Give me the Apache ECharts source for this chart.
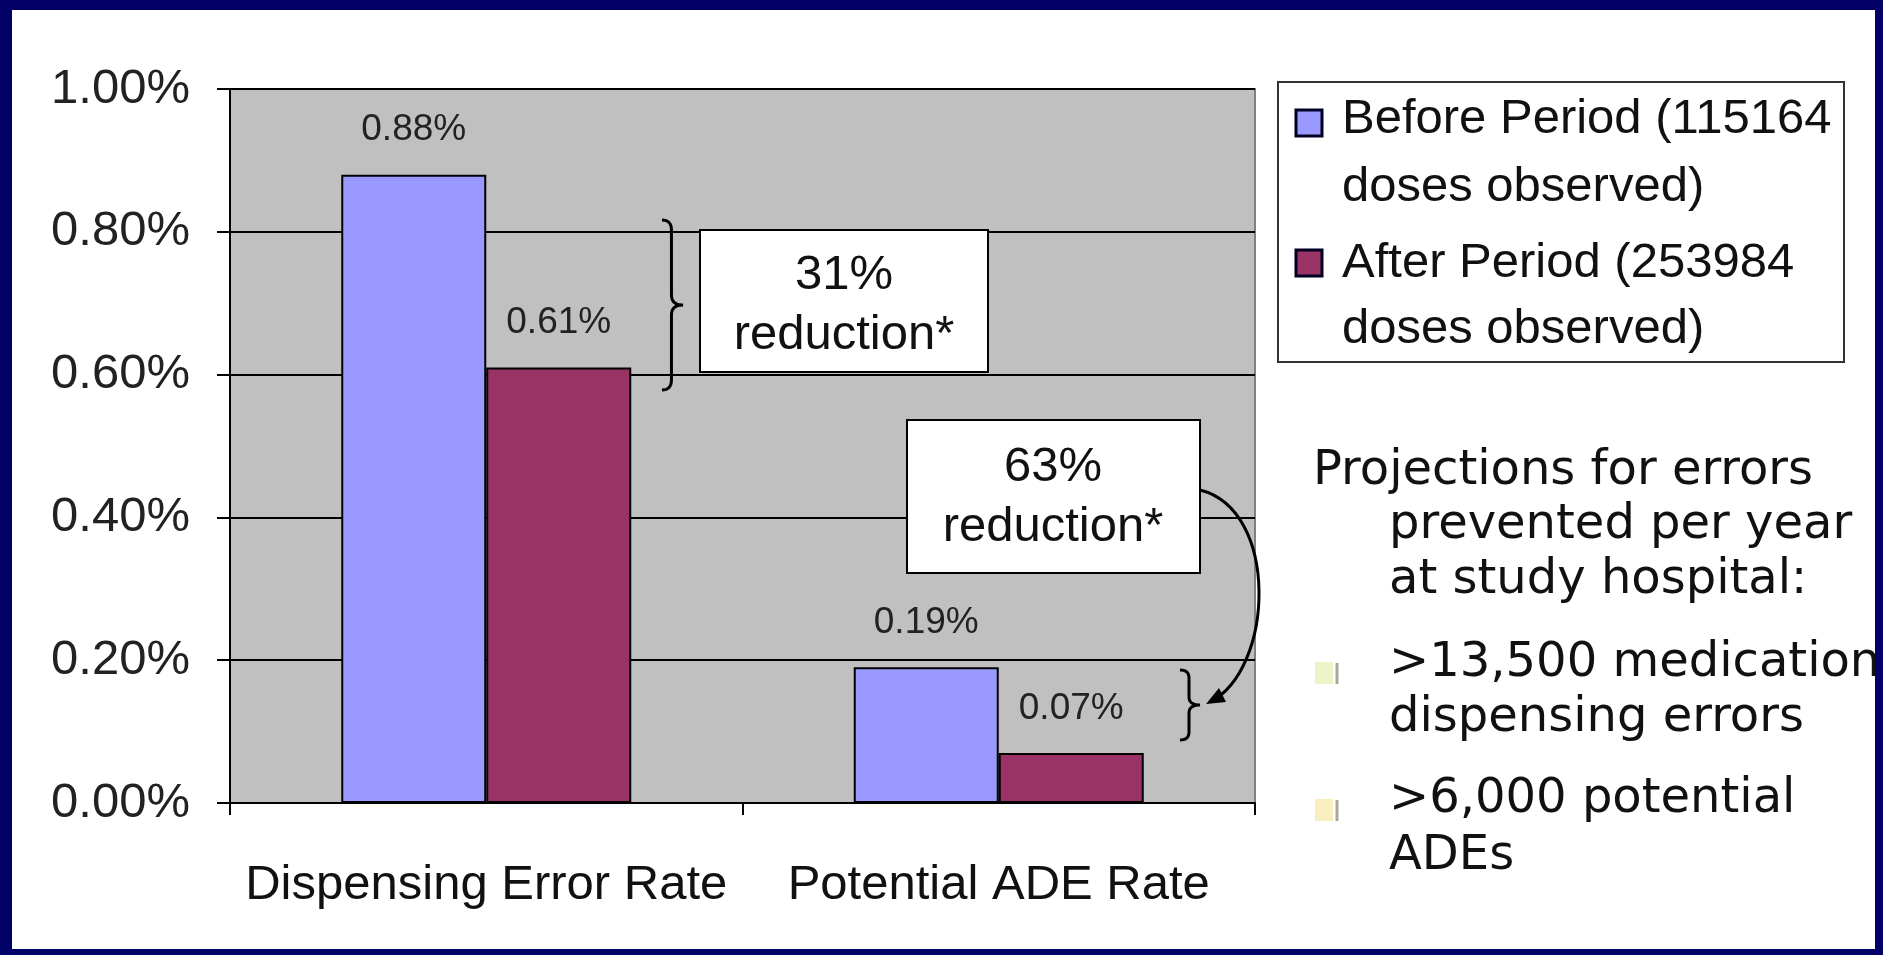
<!DOCTYPE html>
<html>
<head>
<meta charset="utf-8">
<script src="https://cdn.jsdelivr.net/npm/echarts@6/dist/echarts.min.js"></script>
<style>
html, body { margin: 0; padding: 0; width: 1883px; height: 955px; background: #000066; overflow: hidden; }
#chart { position: absolute; left: 12px; top: 10px; width: 1863px; height: 939px; background: #fff; }
</style>
</head>
<body>
<div id="chart"></div>
<script>
const categories = ["Dispensing Error Rate", "Potential ADE Rate"];
const seriesNames = ["Before Period (115164\ndoses observed)", "After Period (253984\ndoses observed)"];
const beforeValues = [0.88, 0.19];
const afterValues = [0.61, 0.07];
const yTicks = [0, 0.2, 0.4, 0.6, 0.8, 1.0];
const reductionLabels = ["31%\nreduction*", "63%\nreduction*"];
const projectionLines = [
  "Projections for errors",
  "prevented per year",
  "at study hospital:",
  ">13,500 medication",
  "dispensing errors",
  ">6,000 potential",
  "ADEs",
];

const ARIAL = "'Liberation Sans', Arial, sans-serif";
const TAHOMA = "'DejaVu Sans', Verdana, sans-serif";
const colors = ["#9999FF", "#993366"];

// sampled quadratic curve, used for the braces
function quad(pts, p0, c, p1) {
  for (let i = 0; i <= 8; i++) {
    const t = i / 8;
    pts.push([
      (1 - t) * (1 - t) * p0[0] + 2 * t * (1 - t) * c[0] + t * t * p1[0],
      (1 - t) * (1 - t) * p0[1] + 2 * t * (1 - t) * c[1] + t * t * p1[1],
    ]);
  }
}
function brace(x0, top, bot, w, r) {
  const xs = x0 + w * 0.45;
  const ym = (top + bot) / 2;
  const pts = [];
  quad(pts, [x0, top], [xs, top], [xs, top + r]);
  pts.push([xs, ym - r]);
  quad(pts, [xs, ym - r], [xs, ym], [x0 + w, ym]);
  quad(pts, [x0 + w, ym], [xs, ym], [xs, ym + r]);
  pts.push([xs, bot - r]);
  quad(pts, [xs, bot - r], [xs, bot], [x0, bot]);
  return {
    type: "polyline",
    shape: { points: pts },
    style: { stroke: "#000", lineWidth: 3, fill: null },
    z: 10,
  };
}

const projLayout = [
  [1301, 462], [1377, 516], [1377, 571], [1377, 654], [1377, 709], [1377, 790], [1377, 847],
];

const graphics = [
  // legend box
  {
    type: "rect", shape: { x: 1266, y: 72, width: 566, height: 280 },
    style: { fill: "#fff", stroke: "#333", lineWidth: 2 }, z: 10,
  },
  {
    type: "rect", shape: { x: 1284, y: 100, width: 26, height: 26 },
    style: { fill: colors[0], stroke: "#000022", lineWidth: 3 }, z: 11,
  },
  {
    type: "rect", shape: { x: 1284, y: 240, width: 26, height: 26 },
    style: { fill: colors[1], stroke: "#000022", lineWidth: 3 }, z: 11,
  },
  {
    type: "text", z: 11,
    style: { text: seriesNames[0], x: 1330, y: 143, textVerticalAlign: "middle",
      fontSize: 49, fontFamily: ARIAL, lineHeight: 68, fill: "#111" },
  },
  {
    type: "text", z: 11,
    style: { text: seriesNames[1], x: 1330, y: 286, textVerticalAlign: "middle",
      fontSize: 49, fontFamily: ARIAL, lineHeight: 66, fill: "#111" },
  },
  // reduction boxes
  {
    type: "rect", shape: { x: 688, y: 220, width: 288, height: 142 },
    style: { fill: "#fff", stroke: "#000", lineWidth: 2 }, z: 10,
  },
  {
    type: "text", z: 11,
    style: { text: reductionLabels[0], x: 832, y: 295, textAlign: "center", textVerticalAlign: "middle",
      fontSize: 49, fontFamily: ARIAL, lineHeight: 60, fill: "#111" },
  },
  {
    type: "rect", shape: { x: 895, y: 410, width: 293, height: 153 },
    style: { fill: "#fff", stroke: "#000", lineWidth: 2 }, z: 10,
  },
  {
    type: "text", z: 11,
    style: { text: reductionLabels[1], x: 1041, y: 487, textAlign: "center", textVerticalAlign: "middle",
      fontSize: 49, fontFamily: ARIAL, lineHeight: 60, fill: "#111" },
  },
  brace(650, 210, 380, 21, 10),
  brace(1168, 660, 730, 20, 8),
  {
    type: "bezierCurve", z: 10,
    shape: { x1: 1188, y1: 480, x2: 1198, y2: 692, cpx1: 1268, cpy1: 500, cpx2: 1262, cpy2: 660 },
    style: { stroke: "#000", lineWidth: 3, fill: null },
  },
  {
    type: "polygon", z: 10,
    shape: { points: [[1194, 694], [1214, 692], [1207, 678]] },
    style: { fill: "#000" },
  },
  // bullets
  { type: "rect", shape: { x: 1303, y: 652, width: 18, height: 22 }, style: { fill: "#EEF3C8" } },
  { type: "line", shape: { x1: 1325, y1: 653, x2: 1325, y2: 674 }, style: { stroke: "#A8A898", lineWidth: 3 } },
  { type: "rect", shape: { x: 1303, y: 789, width: 18, height: 22 }, style: { fill: "#F8EEC0" } },
  { type: "line", shape: { x1: 1325, y1: 790, x2: 1325, y2: 811 }, style: { stroke: "#A8A898", lineWidth: 3 } },
];
projectionLines.forEach((t, i) => {
  graphics.push({
    type: "text",
    style: { text: t, x: projLayout[i][0], y: projLayout[i][1], textVerticalAlign: "middle",
      fontSize: 48, fontFamily: TAHOMA, fill: "#111" },
  });
});

const chart = echarts.init(document.getElementById("chart"));
chart.setOption({
  animation: false,
  backgroundColor: "#fff",
  textStyle: { fontFamily: ARIAL },
  grid: {
    left: 218, right: 620, top: 79, bottom: 146,
    show: true, backgroundColor: "#C0C0C0", borderColor: "#808080", borderWidth: 2,
    containLabel: false, outerBoundsMode: "none",
  },
  xAxis: {
    type: "category",
    data: categories,
    axisLine: { lineStyle: { color: "#000", width: 2 } },
    axisTick: { show: true, length: 12, lineStyle: { color: "#000", width: 2 } },
    axisLabel: { interval: 0, fontSize: 49, margin: 58, color: "#111", fontFamily: ARIAL },
  },
  yAxis: {
    type: "value",
    min: yTicks[0], max: yTicks[yTicks.length - 1], interval: yTicks[1] - yTicks[0],
    axisLine: { show: true, lineStyle: { color: "#000", width: 2 } },
    axisTick: { show: true, length: 13, lineStyle: { color: "#000", width: 2 } },
    splitLine: { lineStyle: { color: "#000", width: 2 } },
    axisLabel: { formatter: (v) => v.toFixed(2) + "%", fontSize: 49, margin: 40, color: "#222", fontFamily: ARIAL },
  },
  series: [
    { name: seriesNames[0], data: beforeValues },
    { name: seriesNames[1], data: afterValues },
  ].map((s, i) => ({
    name: s.name,
    type: "bar",
    data: s.data,
    barWidth: 145,
    barGap: "0%",
    itemStyle: { color: colors[i], borderColor: "#000", borderWidth: 2 },
    label: {
      show: true, position: "top", distance: 26,
      formatter: (p) => p.value.toFixed(2) + "%",
      fontSize: 37, color: "#222", fontFamily: ARIAL,
    },
  })),
  graphic: graphics,
});
</script>
</body>
</html>
